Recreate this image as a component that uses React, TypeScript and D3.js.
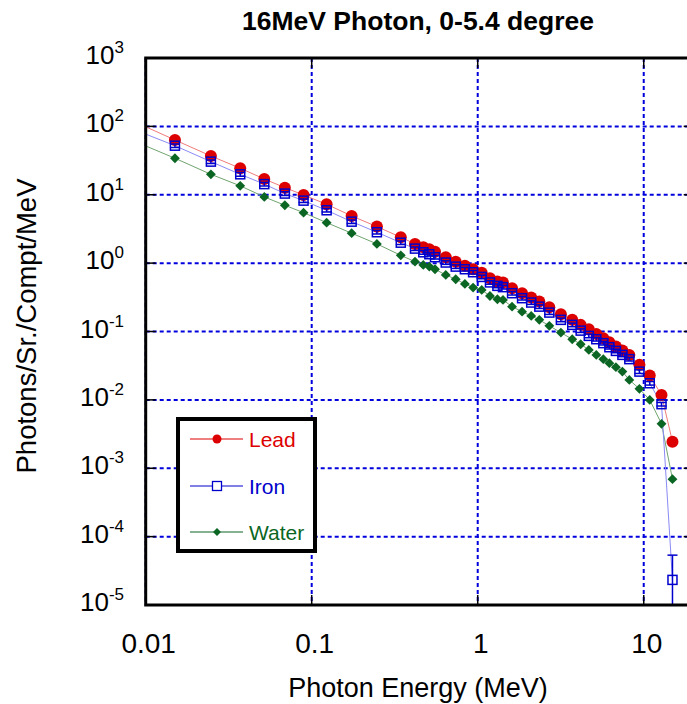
import React, { useRef, useEffect } from 'react'
import * as d3 from 'd3'

// photon energy (MeV); the first point sits left of the axis so the lines run to the edge
const energy = [0.005, 0.015, 0.0247, 0.0371, 0.0518, 0.0689, 0.0893, 0.123, 0.174, 0.247, 0.344, 0.419, 0.47, 0.511, 0.553, 0.642, 0.737, 0.837, 0.938, 1.057, 1.185, 1.314, 1.42, 1.61, 1.85, 2.1, 2.35, 2.7, 3.17, 3.71, 4.17, 4.67, 5.18, 5.71, 6.21, 6.8, 7.44, 8.19, 9.42, 10.87, 12.8, 14.9]
const lead = [210, 63.3, 36.9, 24.4, 17.0, 12.7, 9.93, 7.26, 4.9, 3.42, 2.39, 1.91, 1.71, 1.6, 1.47, 1.22, 1.05, 0.919, 0.814, 0.726, 0.601, 0.537, 0.519, 0.43, 0.363, 0.313, 0.274, 0.227, 0.179, 0.148, 0.125, 0.108, 0.0923, 0.0798, 0.0698, 0.0602, 0.0526, 0.0455, 0.0325, 0.0227, 0.0118, 0.00245]
const iron = [150, 52.2, 30.5, 19.9, 14.3, 10.4, 8.2, 5.93, 4.04, 2.83, 1.99, 1.63, 1.44, 1.35, 1.22, 1.02, 0.889, 0.814, 0.736, 0.628, 0.522, 0.465, 0.445, 0.363, 0.307, 0.265, 0.231, 0.189, 0.148, 0.125, 0.103, 0.0863, 0.0771, 0.0675, 0.0589, 0.052, 0.0455, 0.0394, 0.0259, 0.0175, 0.00865, 0.0000233]
// relative error of the iron points
const ironErr = [0.06, 0.06, 0.06, 0.06, 0.06, 0.06, 0.06, 0.06, 0.06, 0.06, 0.06, 0.06, 0.06, 0.06, 0.06, 0.06, 0.06, 0.06, 0.06, 0.06, 0.06, 0.06, 0.06, 0.06, 0.06, 0.06, 0.06, 0.06, 0.06, 0.06, 0.06, 0.06, 0.06, 0.06, 0.06, 0.06, 0.06, 0.06, 0.06, 0.06, 0.06, 1.3]
const water = [105, 34.2, 19.9, 13.5, 9.29, 7.02, 5.47, 3.91, 2.74, 1.91, 1.3, 1.05, 0.941, 0.889, 0.814, 0.672, 0.582, 0.497, 0.439, 0.406, 0.331, 0.296, 0.29, 0.231, 0.195, 0.169, 0.148, 0.121, 0.0964, 0.0771, 0.0652, 0.0538, 0.0455, 0.0394, 0.0344, 0.0301, 0.0259, 0.0196, 0.0145, 0.01, 0.00446, 0.000693]

const xTicks = [0.01, 0.1, 1, 10]
const xTickLabels = ['0.01', '0.1', '1', '10']
const yExps = [3, 2, 1, 0, -1, -2, -3, -4, -5]
const seriesNames = ['Lead', 'Iron', 'Water']

const RED = '#dd0000'
const BLUE = '#0000cc'
const GREEN = '#0b6623'
const GRID = '#0000dd'
const FONT = 'Arial, "Liberation Sans", Helvetica, sans-serif'

export default function App() {
  const svgRef = useRef<SVGSVGElement>(null)

  useEffect(() => {
    const width = 687
    const height = 704
    const left = 145.7
    const right = 693.7
    const top = 58
    const bottom = 605

    const svg = d3.select(svgRef.current)
    svg.selectAll('*').remove()
    svg.attr('viewBox', `0 0 ${width} ${height}`)

    const x = d3.scaleLog().domain([0.01, 20]).range([left, right])
    const y = d3.scaleLog().domain([1e-5, 1e3]).range([bottom, top])

    svg.append('rect').attr('width', width).attr('height', height).attr('fill', '#fff')

    svg.append('defs').append('clipPath').attr('id', 'plotclip')
      .append('rect')
      .attr('x', left).attr('y', top)
      .attr('width', right - left).attr('height', bottom - top)

    // dotted grid
    const grid = svg.append('g').attr('stroke', GRID).attr('stroke-width', 2).attr('stroke-dasharray', '4,3')
    xTicks.forEach(t => {
      grid.append('line').attr('x1', x(t)).attr('x2', x(t)).attr('y1', top).attr('y2', bottom)
    })
    yExps.forEach(e => {
      grid.append('line').attr('x1', left).attr('x2', right).attr('y1', y(10 ** e)).attr('y2', y(10 ** e))
    })

    const plot = svg.append('g').attr('clip-path', 'url(#plotclip)')

    const line = (vals: number[]) => d3.line<number>()
      .x((_, i) => x(energy[i]))
      .y(d => y(d))(vals)

    plot.append('path').attr('d', line(water)).attr('fill', 'none').attr('stroke', '#6fa46f').attr('stroke-width', 1)
    plot.append('path').attr('d', line(lead)).attr('fill', 'none').attr('stroke', '#f07a7a').attr('stroke-width', 1)
    plot.append('path').attr('d', line(iron)).attr('fill', 'none').attr('stroke', '#8a8af5').attr('stroke-width', 1)

    const idx = d3.range(1, energy.length)

    // water diamonds
    plot.append('g').selectAll('path').data(idx).join('path')
      .attr('d', d3.symbol(d3.symbolDiamond2, 62)())
      .attr('transform', i => `translate(${x(energy[i])},${y(water[i])})`)
      .attr('fill', GREEN)

    // lead circles
    plot.append('g').selectAll('circle').data(idx).join('circle')
      .attr('cx', i => x(energy[i]))
      .attr('cy', i => y(lead[i]))
      .attr('r', 6)
      .attr('fill', RED)

    // iron error bars and squares
    const eb = plot.append('g').attr('stroke', BLUE).attr('stroke-width', 1.5)
    idx.forEach(i => {
      const cx = x(energy[i])
      const hi = iron[i] * (1 + ironErr[i])
      const lo = iron[i] * (1 - ironErr[i])
      const yHi = y(hi)
      const yLo = lo > 0 ? y(lo) : bottom + 10
      eb.append('line').attr('x1', cx).attr('x2', cx).attr('y1', yHi).attr('y2', yLo)
      eb.append('line').attr('x1', cx - 5).attr('x2', cx + 5).attr('y1', yHi).attr('y2', yHi)
      if (lo > 0) eb.append('line').attr('x1', cx - 5).attr('x2', cx + 5).attr('y1', yLo).attr('y2', yLo)
    })
    plot.append('g').selectAll('rect').data(idx).join('rect')
      .attr('x', i => x(energy[i]) - 4.5)
      .attr('y', i => y(iron[i]) - 4.5)
      .attr('width', 9).attr('height', 9)
      .attr('fill', 'none')
      .attr('stroke', BLUE)
      .attr('stroke-width', 1.5)

    // frame
    svg.append('rect')
      .attr('x', left).attr('y', top)
      .attr('width', right - left).attr('height', bottom - top)
      .attr('fill', 'none').attr('stroke', '#000').attr('stroke-width', 3)

    // inward ticks
    const ticks = svg.append('g').attr('stroke', '#000').attr('stroke-width', 1.5)
    yExps.forEach(e => {
      const yy = y(10 ** e)
      ticks.append('line').attr('x1', left).attr('x2', left + 10).attr('y1', yy).attr('y2', yy)
      ticks.append('line').attr('x1', right - 10).attr('x2', right).attr('y1', yy).attr('y2', yy)
    })
    xTicks.forEach(t => {
      ticks.append('line').attr('x1', x(t)).attr('x2', x(t)).attr('y1', bottom).attr('y2', bottom - 10)
      ticks.append('line').attr('x1', x(t)).attr('x2', x(t)).attr('y1', top).attr('y2', top + 10)
    })

    // y tick labels 10^n
    yExps.forEach(e => {
      const t = svg.append('text')
        .attr('x', 124).attr('y', y(10 ** e) + 6)
        .attr('text-anchor', 'end')
        .attr('font-family', FONT).attr('font-size', 26).attr('fill', '#000')
      t.append('tspan').text('10')
      t.append('tspan').attr('dy', -11).attr('font-size', 17).text(String(e))
    })

    // x tick labels
    xTicks.forEach((t, i) => {
      svg.append('text')
        .attr('x', x(t) + 3).attr('y', 653)
        .attr('text-anchor', 'middle')
        .attr('font-family', FONT).attr('font-size', 28).attr('fill', '#000')
        .text(xTickLabels[i])
    })

    svg.append('text')
      .attr('x', 418).attr('y', 30)
      .attr('text-anchor', 'middle')
      .attr('font-family', FONT).attr('font-size', 26.5).attr('font-weight', 'bold')
      .text('16MeV Photon, 0-5.4 degree')

    svg.append('text')
      .attr('x', 418).attr('y', 697)
      .attr('text-anchor', 'middle')
      .attr('font-family', FONT).attr('font-size', 27)
      .text('Photon Energy (MeV)')

    svg.append('text')
      .attr('transform', 'translate(36,326) rotate(-90)')
      .attr('text-anchor', 'middle')
      .attr('font-family', FONT).attr('font-size', 27.5)
      .text('Photons/Sr./Compt/MeV')

    // legend
    const lg = svg.append('g')
    lg.append('rect')
      .attr('x', 178).attr('y', 419).attr('width', 137).attr('height', 132)
      .attr('fill', '#fff').attr('stroke', '#000').attr('stroke-width', 4)
    const colors = [RED, BLUE, GREEN]
    const rowY = [439, 486, 532]
    seriesNames.forEach((name, i) => {
      const yy = rowY[i]
      lg.append('line').attr('x1', 190).attr('x2', 243).attr('y1', yy).attr('y2', yy)
        .attr('stroke', colors[i]).attr('stroke-width', 1)
      if (i === 0) {
        lg.append('circle').attr('cx', 217).attr('cy', yy).attr('r', 4.5).attr('fill', RED)
      } else if (i === 1) {
        lg.append('rect').attr('x', 212.5).attr('y', yy - 4.5).attr('width', 9).attr('height', 9)
          .attr('fill', '#fff').attr('stroke', BLUE).attr('stroke-width', 1.3)
      } else {
        lg.append('path').attr('d', d3.symbol(d3.symbolDiamond2, 40)())
          .attr('transform', `translate(217,${yy})`).attr('fill', GREEN)
      }
      lg.append('text')
        .attr('x', 249).attr('y', yy + 7.5)
        .attr('font-family', FONT).attr('font-size', 21).attr('fill', colors[i])
        .text(name)
    })
  }, [])

  return (
    <svg
      ref={svgRef}
      width={687}
      height={704}
      style={{ position: 'absolute', left: 0, top: 0, display: 'block' }}
      role="img"
      aria-label="16MeV photon spectra for lead, iron and water"
    />
  )
}
